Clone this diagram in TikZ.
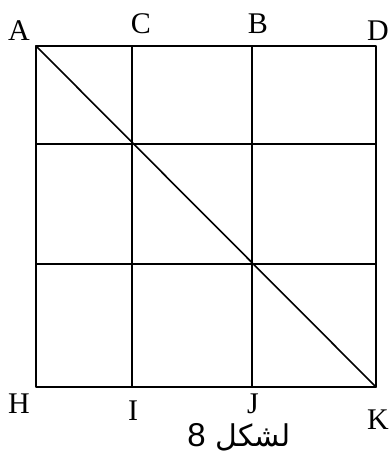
\documentclass[tikz,border=0pt]{standalone}
\usepackage{fontspec}
\setmainfont{Liberation Serif}
\newfontfamily\arabicfont[Script=Arabic]{DejaVu Sans}
\newfontfamily\digitfont{Liberation Sans}
\TeXXeTstate=1
\tikzset{
  lbl/.style={inner sep=0pt,font=\fontsize{30}{30}\selectfont},
  gridline/.style={line width=1.6pt}
}
\begin{document}
\begin{tikzpicture}[x=1pt,y=-1pt,line cap=round,line join=round]
  \useasboundingbox (0,0) rectangle (391,452);
  % corners and grid points
  \coordinate (A) at (36,46);
  \coordinate (C) at (132,46);
  \coordinate (B) at (252,46);
  \coordinate (D) at (376,46);
  \coordinate (H) at (36,387);
  \coordinate (I) at (132,387);
  \coordinate (J) at (252,387);
  \coordinate (K) at (376,387);
  \coordinate (L1) at (36,144);
  \coordinate (R1) at (376,144);
  \coordinate (L2) at (36,264);
  \coordinate (R2) at (376,264);
  \draw[gridline] (A) rectangle (K);
  \draw[gridline] (C) -- (I);
  \draw[gridline] (B) -- (J);
  \draw[gridline] (L1) -- (R1);
  \draw[gridline] (L2) -- (R2);
  \draw[gridline] (A) -- (K);
  % letters
  \node[lbl] (la) at (19,31) {A};
  \node[lbl] (lc) at (141,24) {C};
  \node[lbl] (lb) at (258,24) {B};
  \node[lbl] (ld) at (378,31) {D};
  \node[lbl] (lh) at (19,404) {H};
  \node[lbl] (li) at (133,411) {I};
  \node[lbl] (lj) at (253,404) {J};
  \node[lbl] (lk) at (378,420) {K};
  \node[inner sep=0pt,anchor=base,font=\arabicfont\fontsize{30}{30}\selectfont] (cap) at (239,446) {\beginR لشكل {\digitfont\fontsize{33}{33}\selectfont 8}\endR};
\end{tikzpicture}
\end{document}
